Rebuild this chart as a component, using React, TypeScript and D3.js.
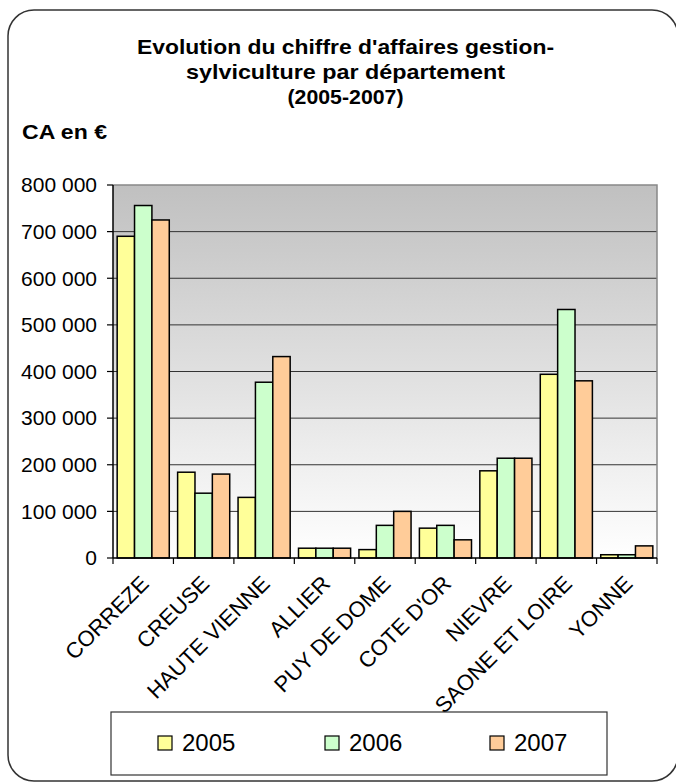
import React, { useEffect } from 'react';
import * as d3 from 'd3';

const categories = ['CORREZE', 'CREUSE', 'HAUTE VIENNE', 'ALLIER', 'PUY DE DOME', "COTE D'OR", 'NIEVRE', 'SAONE ET LOIRE', 'YONNE'];
const seriesNames = ['2005', '2006', '2007'];
const values2005 = [690000, 184000, 130000, 21000, 18000, 64000, 187000, 394000, 7000];
const values2006 = [756000, 139000, 377000, 21000, 70000, 70000, 214000, 533000, 7000];
const values2007 = [725000, 180000, 432000, 21000, 100000, 39000, 214000, 380000, 26000];
const seriesColors = ['#ffff99', '#ccffcc', '#ffcc99'];
const yTicks = [0, 100000, 200000, 300000, 400000, 500000, 600000, 700000, 800000];
const titleLines = ["Evolution du chiffre d'affaires gestion-", 'sylviculture par département', '(2005-2007)'];
const yAxisTitle = 'CA en €';

const W = 676;
const H = 783;
const plot = { left: 113, right: 657, top: 185, bottom: 558 };
const FONT = "Arial, 'Liberation Sans', sans-serif";
const titleWidths = [417, 319, 116];

const locale = d3.formatLocale({ decimal: ',', thousands: ' ', grouping: [3], currency: ['', ' €'] });
const fmt = locale.format(',');

export default function App() {
  useEffect(() => {
    document.body.style.margin = '0';
  }, []);

  const allSeries = [values2005, values2006, values2007];
  const x = d3.scaleBand<string>().domain(categories).range([plot.left, plot.right]).paddingInner(0).paddingOuter(0);
  const xInner = d3.scaleBand<string>().domain(seriesNames).range([0, x.bandwidth()]).paddingInner(0).paddingOuter(0.24);
  const y = d3.scaleLinear().domain([0, 800000]).range([plot.bottom, plot.top]);

  const legendX = [158, 325, 490];

  return (
    <svg width={W} height={H} style={{ position: 'absolute', left: 0, top: 0, display: 'block' }} fontFamily={FONT}>
      <defs>
        <linearGradient id="plotBg" x1="0" y1="0" x2="0" y2="1">
          <stop offset="0%" stopColor="#c0c0c0" />
          <stop offset="100%" stopColor="#ffffff" />
        </linearGradient>
      </defs>
      <rect x={0} y={0} width={W} height={H} fill="#ffffff" />
      <rect x={8} y={10} width={670} height={771} rx={26} ry={26} fill="none" stroke="#333" strokeWidth={1.5} />

      {titleLines.map((t, i) => (
        <text
          key={i}
          x={345.5}
          y={54 + i * 25}
          textAnchor="middle"
          fontSize={21}
          fontWeight="bold"
          fill="#000"
          textLength={titleWidths[i]}
          lengthAdjust="spacingAndGlyphs"
        >
          {t}
        </text>
      ))}
      <text x={22} y={139} fontSize={21} fontWeight="bold" fill="#000" textLength={85} lengthAdjust="spacingAndGlyphs">
        {yAxisTitle}
      </text>

      <rect x={plot.left} y={plot.top} width={plot.right - plot.left} height={plot.bottom - plot.top} fill="url(#plotBg)" />
      {yTicks.filter((v) => v > 0 && v < 800000).map((v) => (
        <line key={v} x1={plot.left} x2={plot.right} y1={y(v)} y2={y(v)} stroke="#333" strokeWidth={1} />
      ))}
      <polyline
        points={`${plot.left},${plot.top} ${plot.right},${plot.top} ${plot.right},${plot.bottom}`}
        fill="none"
        stroke="#888"
        strokeWidth={1.5}
      />

      {categories.map((c, ci) =>
        allSeries.map((vals, si) => {
          const bx = (x(c) as number) + (xInner(seriesNames[si]) as number);
          const by = y(vals[ci]);
          return (
            <rect
              key={c + si}
              x={bx}
              y={by}
              width={xInner.bandwidth()}
              height={plot.bottom - by}
              fill={seriesColors[si]}
              stroke="#000"
              strokeWidth={1.5}
            />
          );
        })
      )}

      <line x1={plot.left} x2={plot.left} y1={plot.top} y2={plot.bottom} stroke="#000" strokeWidth={1.5} />
      <line x1={plot.left} x2={plot.right} y1={plot.bottom} y2={plot.bottom} stroke="#000" strokeWidth={1.5} />
      {yTicks.map((v) => (
        <g key={v}>
          <line x1={plot.left - 6} x2={plot.left} y1={y(v)} y2={y(v)} stroke="#000" strokeWidth={1.2} />
          <text x={97} y={y(v)} dy="0.35em" textAnchor="end" fontSize={21} fill="#000">
            {fmt(v)}
          </text>
        </g>
      ))}
      {d3.range(categories.length + 1).map((i) => {
        const tx = plot.left + i * x.step();
        return <line key={i} x1={tx} x2={tx} y1={plot.bottom} y2={plot.bottom + 6} stroke="#000" strokeWidth={1.2} />;
      })}
      {categories.map((c) => {
        const cx = (x(c) as number) + x.bandwidth() / 2;
        return (
          <text key={c} transform={`translate(${cx + 7},${585}) rotate(-45)`} textAnchor="end" fontSize={22} fill="#000">
            {c}
          </text>
        );
      })}

      <rect x={111} y={712} width={496} height={63} fill="#fff" stroke="#333" strokeWidth={1.2} />
      {seriesNames.map((s, i) => (
        <g key={s}>
          <rect x={legendX[i]} y={736} width={14} height={14} fill={seriesColors[i]} stroke="#000" strokeWidth={1.2} />
          <text x={legendX[i] + 24} y={743} dy="0.35em" fontSize={24} fill="#000">
            {s}
          </text>
        </g>
      ))}
    </svg>
  );
}
